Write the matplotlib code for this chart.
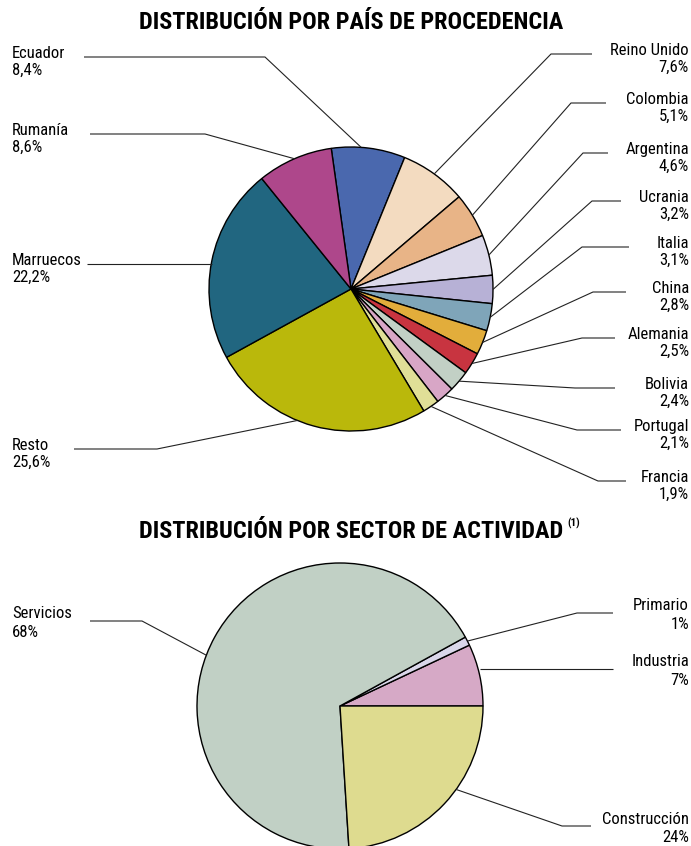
import numpy as np
import matplotlib
matplotlib.use('Agg')
import matplotlib.pyplot as plt
from matplotlib import font_manager

W, H = 691, 846

# Distribución por país de procedencia (en orden horario desde Ecuador)
paises = ['Ecuador', 'Reino Unido', 'Colombia', 'Argentina', 'Ucrania', 'Italia',
          'China', 'Alemania', 'Bolivia', 'Portugal', 'Francia', 'Resto',
          'Marruecos', 'Rumanía']
pct_paises = [8.4, 7.6, 5.1, 4.6, 3.2, 3.1, 2.8, 2.5, 2.4, 2.1, 1.9, 25.6, 22.2, 8.6]
colores_paises = ['#4a68ae', '#f3dbc0', '#e8b487', '#dcd9ea', '#b7b1d6', '#7fa5b9',
                  '#e2ad3b', '#c83440', '#c2d0c5', '#d8a6c6', '#e0df97', '#bab80b',
                  '#216680', '#ae478b']

# Distribución por sector de actividad
sectores = ['Industria', 'Primario', 'Servicios', 'Construcción']
pct_sectores = [7, 1, 68, 24]
colores_sectores = ['#d6a9c6', '#dad7ea', '#c1d0c5', '#dedb8f']

# guías: lado, x donde acaba la línea junto al texto, y de la línea, x del codo, ajuste de ángulo
guias_paises = {
    'Ecuador':     ('left', 84, 57, 265, 3),
    'Rumanía':     ('left', 90, 134, 205, 0),
    'Marruecos':   ('left', 87, 264, None, 0),
    'Resto':       ('left', 74, 449, 157, -7),
    'Reino Unido': ('right', 592, 54, 551, 0),
    'Colombia':    ('right', 606, 103, 571, 0),
    'Argentina':   ('right', 608, 153, 583, 0),
    'Ucrania':     ('right', 621, 201, 592, 0),
    'Italia':      ('right', 629, 247, 582, 0),
    'China':       ('right', 626, 292, 593, 0),
    'Alemania':    ('right', 615, 338, 582, 0),
    'Bolivia':     ('right', 615, 388, 575, 0),
    'Portugal':    ('right', 621, 430, 577, 0),
    'Francia':     ('right', 626, 481, 598, 0),
}
guias_sectores = {
    'Servicios':    ('left', 90, 621, 142, 8),
    'Primario':     ('right', 613, 613, 577, 0),
    'Industria':    ('right', 613, 669, None, 0),
    'Construcción': ('right', 591, 826, 562, 7.5),
}

# tipografía estrecha si hay alguna instalada
nombres = {f.name for f in font_manager.fontManager.ttflist}
estrechas = ['Liberation Sans Narrow', 'Arial Narrow', 'Roboto Condensed',
             'DejaVu Sans Condensed', 'Open Sans Condensed']
disponibles = [f for f in estrechas if f in nombres]
if disponibles:
    fuente, t_etq, t_tit = disponibles[0], 12, 17.5
else:
    fuente, t_etq, t_tit = 'Liberation Sans', 11, 14.5
plt.rcParams['font.family'] = [fuente, 'DejaVu Sans']

fig = plt.figure(figsize=(W / 100, H / 100), dpi=100)
ax = fig.add_axes([0, 0, 1, 1])


def py(y):
    # coordenada vertical medida desde arriba
    return H - y


def dibujar_tarta(valores, colores, etiquetas, guias, cx, cy, r, inicio, horario,
                  fmt, dy_nombre, salto):
    wedges, _ = ax.pie(valores, colors=colores, startangle=inicio,
                       counterclock=not horario, center=(cx, py(cy)), radius=r,
                       wedgeprops=dict(edgecolor='black', linewidth=1.0))
    for w, nombre, v in zip(wedges, etiquetas, valores):
        lado, xfin, yl, xcodo, ajuste = guias[nombre]
        ang = np.deg2rad((w.theta1 + w.theta2) / 2 + ajuste)
        xb = cx + r * np.cos(ang)
        yb = py(cy) + r * np.sin(ang)
        xs = [xb]
        ys = [yb]
        if xcodo is not None:
            xs.append(xcodo)
            ys.append(py(yl))
        else:
            ys[0] = py(yl)
        xs.append(xfin)
        ys.append(py(yl))
        ax.plot(xs, ys, color='#222222', lw=0.8, solid_capstyle='butt')
        xt, ha = (12, 'left') if lado == 'left' else (689, 'right')
        yb_nombre = yl + dy_nombre
        ax.text(xt, py(yb_nombre), nombre, ha=ha, va='baseline', fontsize=t_etq)
        ax.text(xt, py(yb_nombre + salto), fmt(v), ha=ha, va='baseline', fontsize=t_etq)


dibujar_tarta(pct_paises, colores_paises, paises, guias_paises, 351, 289, 142, 98, True,
              lambda v: f'{v:.1f}'.replace('.', ',') + '%', 0.5, 17.2)
dibujar_tarta(pct_sectores, colores_sectores, sectores, guias_sectores, 340, 706, 143, 0, False,
              lambda v: f'{v:.0f}%', -2.5, 18.5)

ax.set_xlim(0, W)
ax.set_ylim(0, H)
ax.set_aspect('equal')
ax.set_axis_off()

ax.text(351, py(29), 'DISTRIBUCIÓN POR PAÍS DE PROCEDENCIA', ha='center', va='baseline',
        fontsize=t_tit, fontweight='bold')
t2 = ax.text(351, py(538), 'DISTRIBUCIÓN POR SECTOR DE ACTIVIDAD', ha='center', va='baseline',
             fontsize=t_tit, fontweight='bold')
fig.canvas.draw()
bb = t2.get_window_extent()
ax.text(bb.x1 + 4, py(527), '(1)', ha='left', va='baseline', fontsize=8, fontweight='bold')

fig.savefig('out.png', dpi=100)
